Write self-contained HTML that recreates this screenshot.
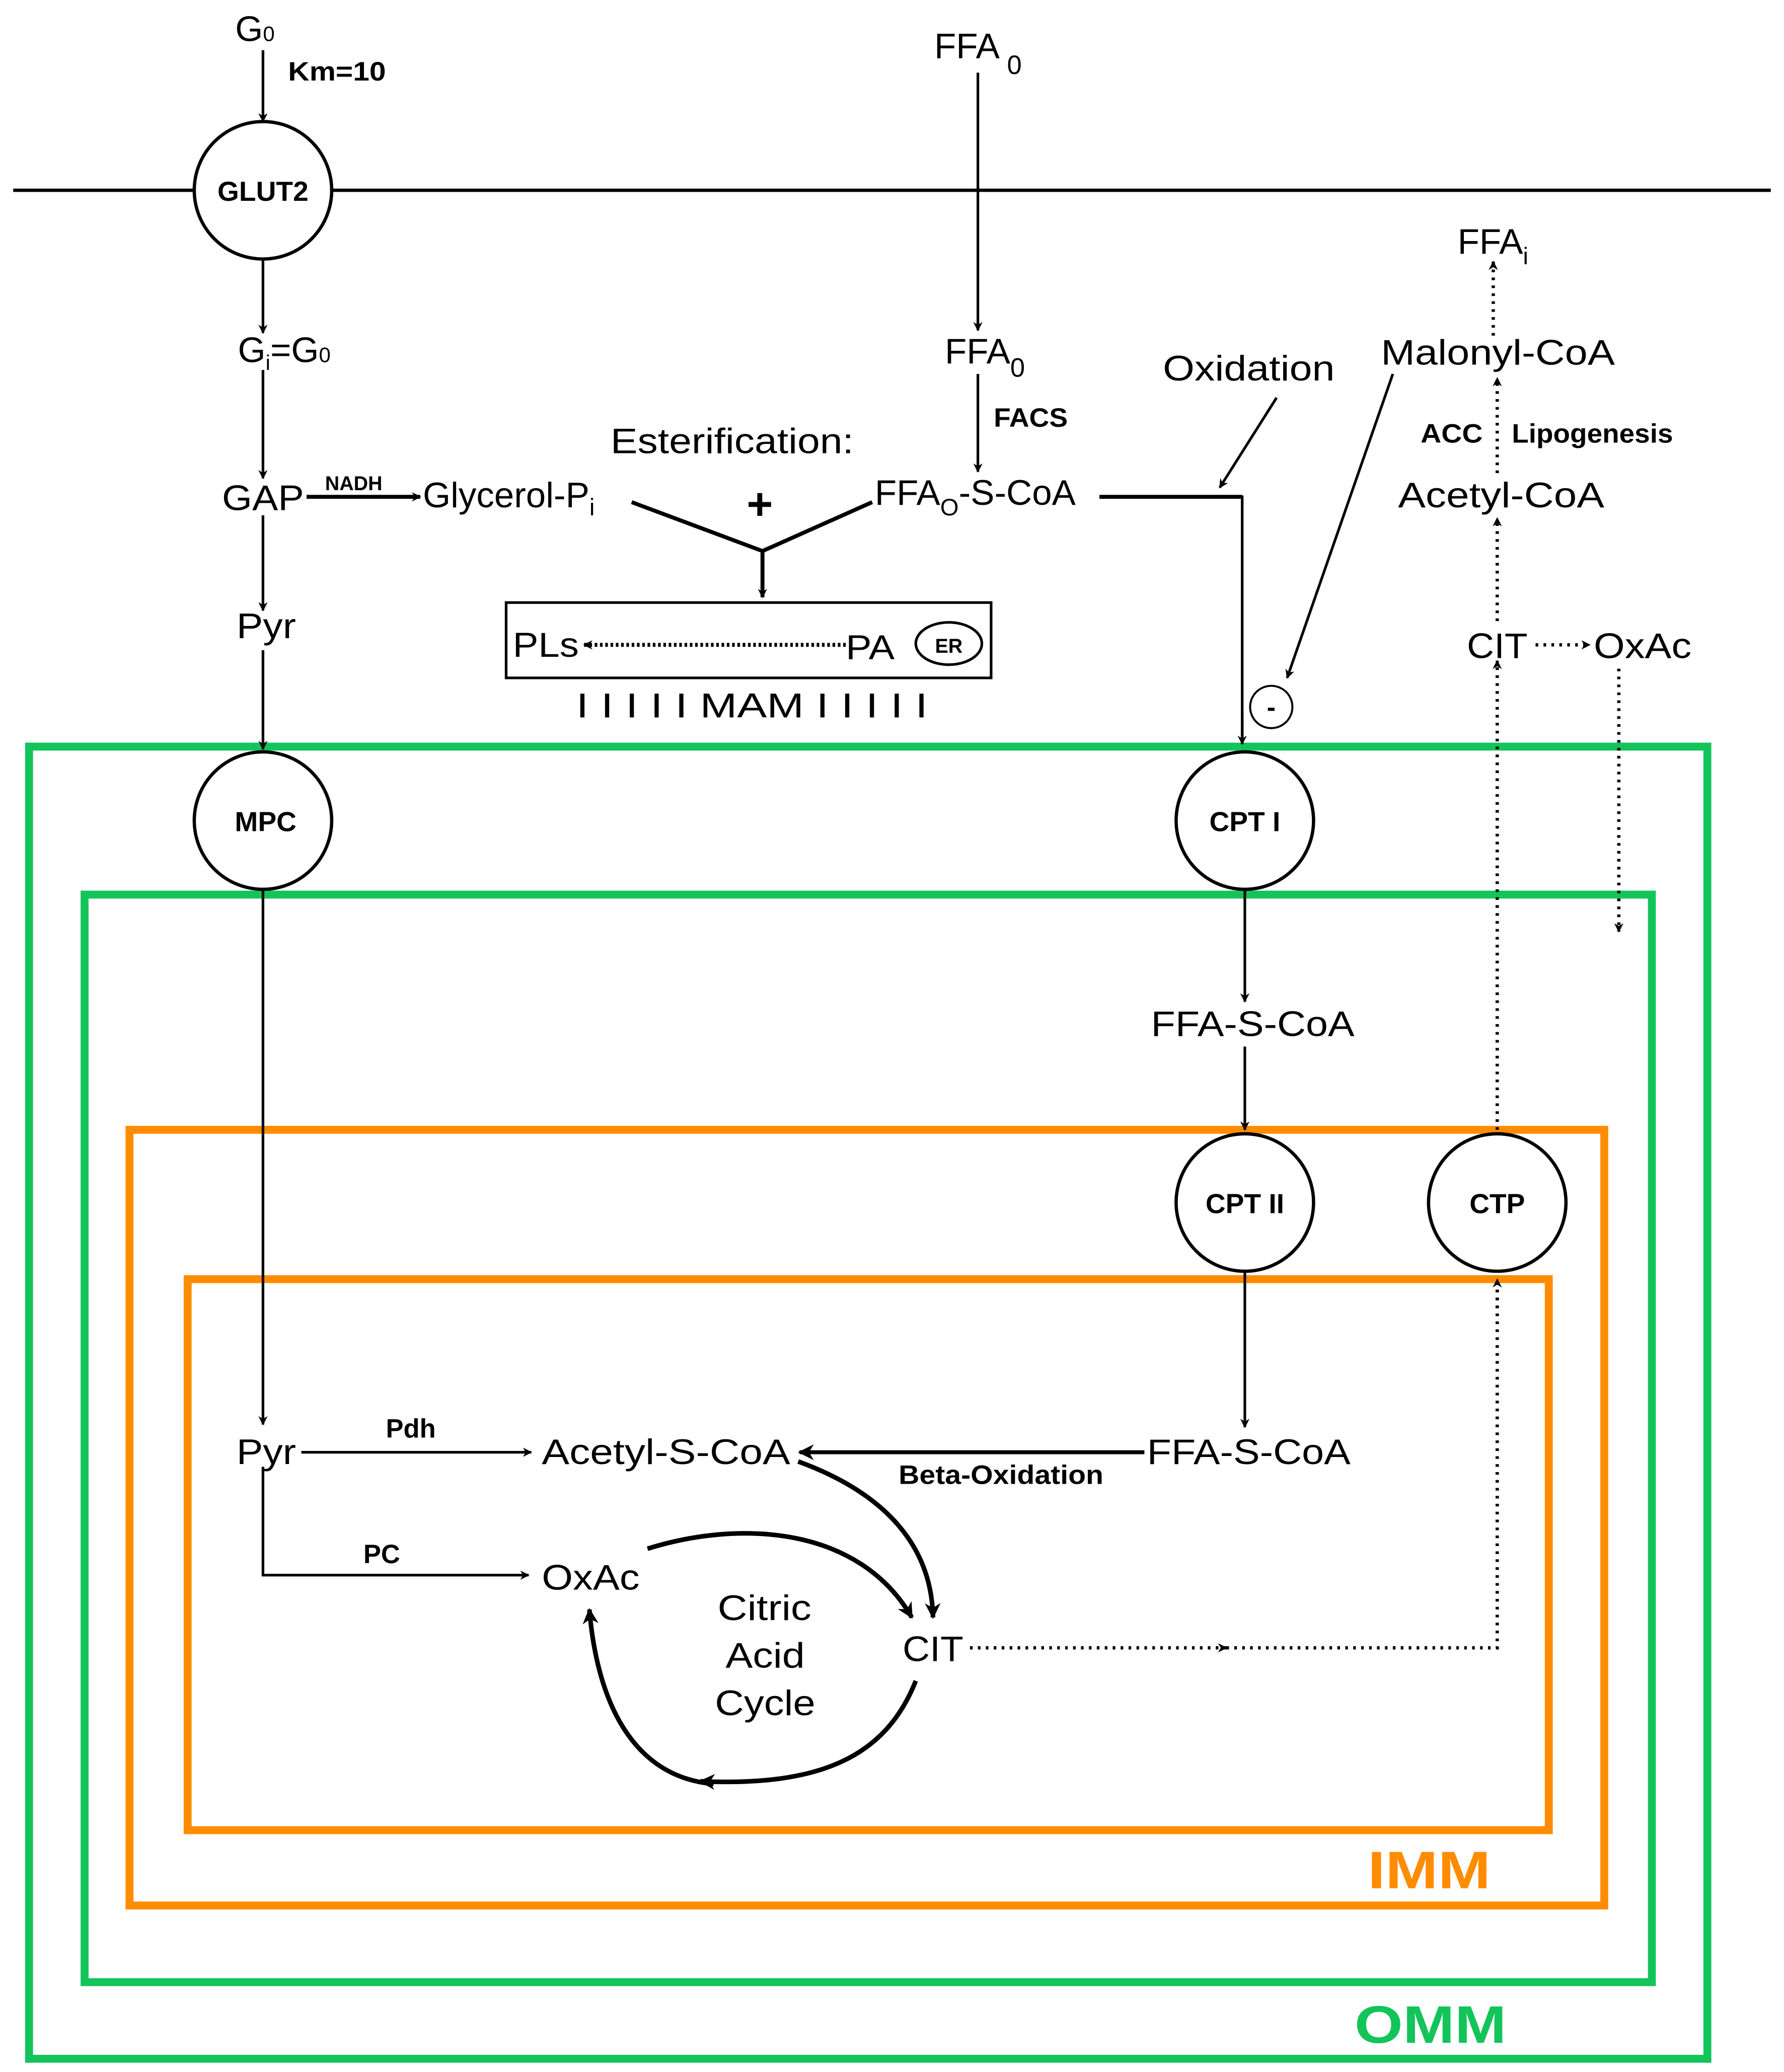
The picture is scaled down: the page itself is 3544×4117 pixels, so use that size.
<!DOCTYPE html>
<html><head><meta charset="utf-8"><style>
html,body{margin:0;padding:0;background:#fff;}
svg{display:block;}
text{font-family:"Liberation Sans",sans-serif;fill:#000;}
</style></head><body>
<svg width="3544" height="4117" viewBox="0 0 1350 1568" preserveAspectRatio="none" xmlns="http://www.w3.org/2000/svg">
<defs>
<marker id="a" viewBox="0 0 10 10" refX="9" refY="5" markerWidth="7" markerHeight="7" orient="auto" markerUnits="userSpaceOnUse"><path d="M0,0 L10,5 L0,10 L3,5 Z" fill="#000"/></marker>
<marker id="b" viewBox="0 0 10 10" refX="9" refY="5" markerWidth="12" markerHeight="12" orient="auto" markerUnits="userSpaceOnUse"><path d="M0,0 L10,5 L0,10 L3,5 Z" fill="#000"/></marker>
</defs>
<rect width="1350" height="1568" fill="#fff"/>
<rect x="22" y="565" width="1270" height="993" fill="none" stroke="#13c45a" stroke-width="6"/>
<rect x="64" y="677" width="1186" height="823" fill="none" stroke="#13c45a" stroke-width="6"/>
<rect x="98" y="855" width="1116" height="587" fill="none" stroke="#ff8c00" stroke-width="6"/>
<rect x="142" y="968" width="1030" height="417" fill="none" stroke="#ff8c00" stroke-width="6"/>
<text x="1035" y="1429" font-size="40" font-weight="bold" textLength="93" lengthAdjust="spacingAndGlyphs" style="fill:#ff8c00">IMM</text>
<text x="1025" y="1546" font-size="40" font-weight="bold" textLength="115" lengthAdjust="spacingAndGlyphs" style="fill:#13c45a">OMM</text>
<line x1="10" y1="144" x2="1340" y2="144" stroke="#000" stroke-width="2.5"/>
<g stroke="#000" stroke-width="2" fill="none">
<line x1="199" y1="38" x2="199" y2="92" marker-end="url(#a)"/>
<line x1="199" y1="196" x2="199" y2="252" marker-end="url(#a)"/>
<line x1="199" y1="280" x2="199" y2="362" marker-end="url(#a)"/>
<line x1="199" y1="390" x2="199" y2="462" marker-end="url(#a)"/>
<line x1="199" y1="492" x2="199" y2="567" marker-end="url(#a)"/>
<line x1="199" y1="673" x2="199" y2="1078" marker-end="url(#a)"/>
<line x1="232" y1="376" x2="318" y2="376" stroke-width="3" marker-end="url(#a)"/>
<line x1="740" y1="55" x2="740" y2="250" marker-end="url(#a)"/>
<line x1="740" y1="283" x2="740" y2="357" marker-end="url(#a)"/>
<polyline points="478,380 577,417 660,380" stroke-width="3"/>
<line x1="577" y1="417" x2="577" y2="452" stroke-width="3" marker-end="url(#a)"/>
<polyline points="832,376 940,376 940,563" stroke-width="2" />
<line x1="832" y1="376" x2="940" y2="376" stroke-width="3"/>
<line x1="940" y1="540" x2="940" y2="563" marker-end="url(#a)"/>
<line x1="966" y1="301" x2="923" y2="369" marker-end="url(#a)"/>
<line x1="1054" y1="283" x2="974" y2="513" marker-end="url(#a)"/>
<line x1="942" y1="673" x2="942" y2="758" marker-end="url(#a)"/>
<line x1="942" y1="792" x2="942" y2="855" marker-end="url(#a)"/>
<line x1="942" y1="962" x2="942" y2="1080" marker-end="url(#a)"/>
<line x1="866" y1="1099" x2="605" y2="1099" stroke-width="3" marker-end="url(#b)"/>
<line x1="228" y1="1099" x2="402" y2="1099" stroke-width="2" marker-end="url(#a)"/>
<polyline points="199,1110 199,1192 400,1192" marker-end="url(#a)"/>
<path d="M604,1106 C670,1130 705,1170 706,1224" stroke-width="3.5" marker-end="url(#b)"/>
<path d="M490,1172 C560,1150 650,1155 690,1224" stroke-width="3.5" marker-end="url(#b)"/>
<path d="M693,1272 C670,1330 620,1352 530,1348" stroke-width="3.5" marker-end="url(#b)"/>
<path d="M540,1350 C480,1345 452,1290 446,1218" stroke-width="3.5" marker-end="url(#b)"/>
</g>
<g stroke="#000" stroke-width="2.5" fill="none" stroke-dasharray="2,4">
<line x1="640" y1="488" x2="442" y2="488" stroke-dasharray="2,2" stroke-width="3" marker-end="url(#a)"/>
<line x1="734" y1="1247" x2="928" y2="1247" marker-end="url(#a)"/>
<polyline points="928,1247 1133,1247 1133,968"/>
<line x1="1133" y1="990" x2="1133" y2="968" marker-end="url(#a)"/>
<line x1="1133" y1="855" x2="1133" y2="500" marker-end="url(#a)"/>
<line x1="1133" y1="470" x2="1133" y2="392" marker-end="url(#a)"/>
<line x1="1133" y1="358" x2="1133" y2="286" marker-end="url(#a)"/>
<line x1="1130" y1="254" x2="1130" y2="198" marker-end="url(#a)"/>
<line x1="1162" y1="488" x2="1203" y2="488" marker-end="url(#a)"/>
<line x1="1225" y1="506" x2="1225" y2="705" marker-end="url(#a)"/>
</g>
<g fill="#fff" stroke="#000" stroke-width="2.5">
<circle cx="199" cy="144" r="52"/>
<circle cx="199" cy="621" r="52"/>
<circle cx="942" cy="621" r="52"/>
<circle cx="942" cy="910" r="52"/>
<circle cx="1133" cy="910" r="52"/>
</g>
<circle cx="962" cy="535" r="16" fill="#fff" stroke="#000" stroke-width="1.5"/>
<text x="962" y="542" font-size="20" font-weight="bold" text-anchor="middle">-</text>
<g font-weight="bold" font-size="21" text-anchor="middle">
<text x="199" y="152">GLUT2</text>
<text x="201" y="629">MPC</text>
<text x="942" y="629">CPT I</text>
<text x="942" y="918">CPT II</text>
<text x="1133" y="918">CTP</text>
</g>
<rect x="383" y="456" width="367" height="57" fill="none" stroke="#000" stroke-width="2"/>
<ellipse cx="718" cy="487" rx="25" ry="16" fill="none" stroke="#000" stroke-width="2"/>
<text x="718" y="494" font-size="15" font-weight="bold" text-anchor="middle">ER</text>
<text x="388" y="497" font-size="26" textLength="50" lengthAdjust="spacingAndGlyphs">PLs</text>
<text x="640" y="499" font-size="26" textLength="37" lengthAdjust="spacingAndGlyphs">PA</text>
<text x="436" y="543" font-size="26" textLength="266" lengthAdjust="spacingAndGlyphs">I I I I I MAM I I I I I</text>
<g font-size="27">
<text x="178" y="31">G<tspan font-size="16">0</tspan></text>
<text x="218" y="61" font-size="20" font-weight="bold" textLength="74" lengthAdjust="spacingAndGlyphs">Km=10</text>
<text x="707" y="44">FFA<tspan font-size="20" dy="12"> 0</tspan></text>
<text x="180" y="274">G<tspan font-size="16" dy="6">i</tspan><tspan dy="-6">=G</tspan><tspan font-size="16">0</tspan></text>
<text x="715" y="275">FFA<tspan font-size="20" dy="10">0</tspan></text>
<text x="752" y="323" font-size="20" font-weight="bold" textLength="56" lengthAdjust="spacingAndGlyphs">FACS</text>
<text x="880" y="288" textLength="130" lengthAdjust="spacingAndGlyphs">Oxidation</text>
<text x="1045" y="276" textLength="177" lengthAdjust="spacingAndGlyphs">Malonyl-CoA</text>
<text x="1103" y="192">FFA<tspan font-size="18" dy="8">i</tspan></text>
<text x="1075" y="335" font-size="20" font-weight="bold" textLength="47" lengthAdjust="spacingAndGlyphs">ACC</text>
<text x="1144" y="335" font-size="20" font-weight="bold" textLength="122" lengthAdjust="spacingAndGlyphs">Lipogenesis</text>
<text x="1058" y="384" textLength="156" lengthAdjust="spacingAndGlyphs">Acetyl-CoA</text>
<text x="1110" y="498" textLength="46" lengthAdjust="spacingAndGlyphs">CIT</text>
<text x="1206" y="498" textLength="74" lengthAdjust="spacingAndGlyphs">OxAc</text>
<text x="462" y="343" textLength="184" lengthAdjust="spacingAndGlyphs">Esterification:</text>
<text x="565" y="393" font-size="34" font-weight="bold">+</text>
<text x="168" y="386" textLength="62" lengthAdjust="spacingAndGlyphs">GAP</text>
<text x="246" y="371" font-size="15" font-weight="bold">NADH</text>
<text x="320" y="384">Glycerol-P<tspan font-size="18" dy="6">i</tspan></text>
<text x="662" y="382">FFA<tspan font-size="18" dy="8">O</tspan><tspan dy="-8">-S-CoA</tspan></text>
<text x="179" y="483" textLength="45" lengthAdjust="spacingAndGlyphs">Pyr</text>
<text x="871" y="784" textLength="154" lengthAdjust="spacingAndGlyphs">FFA-S-CoA</text>
<text x="179" y="1108" textLength="45" lengthAdjust="spacingAndGlyphs">Pyr</text>
<text x="292" y="1088" font-size="20" font-weight="bold">Pdh</text>
<text x="410" y="1108" textLength="188" lengthAdjust="spacingAndGlyphs">Acetyl-S-CoA</text>
<text x="868" y="1108" textLength="154" lengthAdjust="spacingAndGlyphs">FFA-S-CoA</text>
<text x="680" y="1123" font-size="20" font-weight="bold" textLength="155" lengthAdjust="spacingAndGlyphs">Beta-Oxidation</text>
<text x="275" y="1183" font-size="20" font-weight="bold">PC</text>
<text x="410" y="1203" textLength="74" lengthAdjust="spacingAndGlyphs">OxAc</text>
<text x="683" y="1257" textLength="46" lengthAdjust="spacingAndGlyphs">CIT</text>
<text x="543" y="1226" textLength="71" lengthAdjust="spacingAndGlyphs">Citric</text>
<text x="549" y="1262" textLength="60" lengthAdjust="spacingAndGlyphs">Acid</text>
<text x="541" y="1298" textLength="76" lengthAdjust="spacingAndGlyphs">Cycle</text>
</g>
</svg>
</body></html>
